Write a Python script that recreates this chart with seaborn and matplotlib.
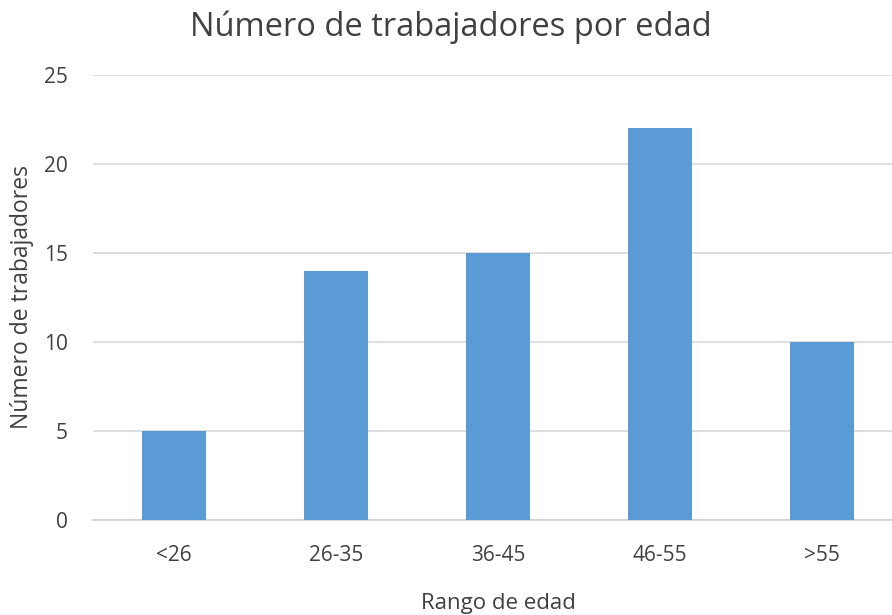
import pandas as pd
import matplotlib.pyplot as plt
import seaborn as sns

# Data
rangos = ['<26', '26-35', '36-45', '46-55', '>55']
trabajadores = [5, 14, 15, 22, 10]

df = pd.DataFrame({'Rango de edad': rangos, 'Número de trabajadores': trabajadores})

sns.set_theme(style='white')
plt.rcParams['font.family'] = ['Open Sans', 'DejaVu Sans']
gris = '#404040'

fig = plt.figure(figsize=(8.92, 6.15), dpi=100)
ax = fig.add_axes([93 / 892, 95 / 615, 810 / 892, 445 / 615])

sns.barplot(data=df, x='Rango de edad', y='Número de trabajadores',
            color='#5B9BD5', saturation=1, width=0.4, linewidth=0, ax=ax, zorder=3)

ax.set_ylim(0, 25)
ax.set_xlim(-0.5, 4.5)
ax.set_yticks(range(0, 26, 5))
ax.yaxis.grid(True, color='#D9D9D9', linewidth=1.2, zorder=0)
ax.set_axisbelow(True)
for s in ['top', 'right', 'left']:
    ax.spines[s].set_visible(False)
ax.spines['bottom'].set_color('#D0D0D0')
ax.spines['bottom'].set_linewidth(1.2)
ax.tick_params(axis='both', length=0, labelsize=15, labelcolor=gris)
ax.tick_params(axis='x', pad=18)
ax.tick_params(axis='y', pad=18)

ax.set_xlabel('Rango de edad', fontsize=16, color=gris)
ax.xaxis.set_label_coords(0.5, -0.165)
ax.set_ylabel('Número de trabajadores', fontsize=16.5, color=gris, labelpad=7)
fig.text(451 / 892, 1 - 27 / 615, 'Número de trabajadores por edad',
         ha='center', va='center', fontsize=23.5, color=gris)

plt.savefig('out.png', dpi=100)
plt.close()
